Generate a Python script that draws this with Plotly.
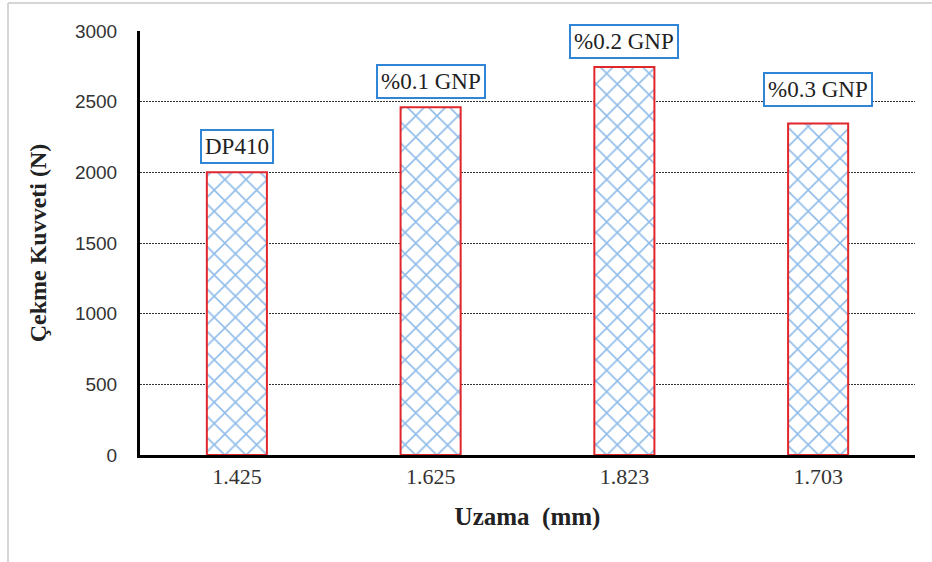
import plotly.graph_objects as go

# Tensile test results
elongation = ["1.425", "1.625", "1.823", "1.703"]
force = [2000, 2460, 2745, 2345]
sample = ["DP410", "%0.1 GNP", "%0.2 GNP", "%0.3 GNP"]
label_lift = [8, 8, 8, 17]
y_ticks = [0, 500, 1000, 1500, 2000, 2500, 3000]

SERIF = "Liberation Serif, Times New Roman, serif"
BLUE = "#2f86d6"
HATCH = "#1d78d2"
RED = "#e1262c"

fig = go.Figure()
fig.add_trace(go.Bar(
    x=elongation,
    y=force,
    width=0.31,
    marker=dict(
        color="white",
        line=dict(color=RED, width=2),
        pattern=dict(shape="x", fgcolor=HATCH, bgcolor="white", size=15, solidity=0.2),
    ),
    showlegend=False,
))

# category positions are addressed by index on the category axis
for i, (val, name, lift) in enumerate(zip(force, sample, label_lift)):
    fig.add_annotation(
        x=i, y=val, xref="x", yref="y",
        text=name, showarrow=False,
        yanchor="bottom", yshift=lift,
        font=dict(family=SERIF, size=23, color="#222222"),
        bgcolor="white", bordercolor=BLUE, borderwidth=2, borderpad=3,
    )

# light frame around the chart area
fig.add_shape(type="line", xref="paper", yref="paper",
              x0=-0.1703, x1=-0.1703, y0=-0.3, y1=1.066,
              line=dict(color="#d6d6d6", width=2))
fig.add_shape(type="line", xref="paper", yref="paper",
              x0=-0.1703, x1=1.03, y0=1.066, y1=1.066,
              line=dict(color="#d6d6d6", width=2))

fig.update_layout(
    width=932, height=562,
    margin=dict(l=140, r=17, t=31, b=107),
    paper_bgcolor="white", plot_bgcolor="white",
    bargap=0.69,
)
fig.update_xaxes(
    type="category",
    showline=True, linecolor="black", linewidth=3,
    showgrid=False, ticks="",
    tickfont=dict(family=SERIF, size=22, color="#333333"),
    title=dict(text="<b>Uzama  (mm)</b>", font=dict(family=SERIF, size=25, color="#222222"), standoff=20),
)
fig.update_yaxes(
    range=[0, 3000], tickvals=y_ticks,
    showline=True, linecolor="black", linewidth=3,
    showgrid=True, gridcolor="#333333", griddash="1.5px,1.5px", gridwidth=1,
    zeroline=False, ticks="",
    ticklabelstandoff=16,
    tickfont=dict(family="Liberation Sans, Arial, sans-serif", size=19, color="#333333"),
    title=dict(text="<b>Çekme Kuvveti (N)</b>", font=dict(family=SERIF, size=24, color="#222222"), standoff=22),
)

fig.write_html("out.html")
